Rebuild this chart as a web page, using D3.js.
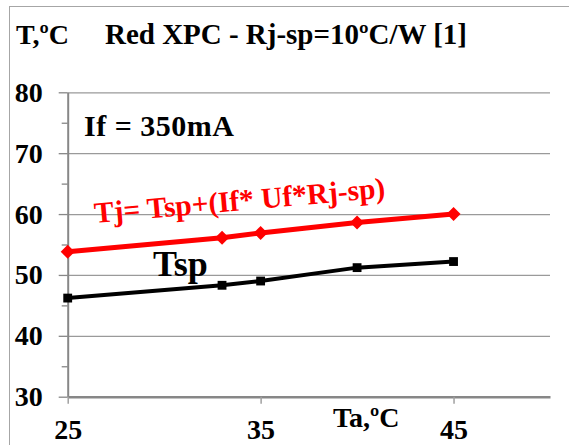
<!DOCTYPE html>
<html>
<head>
<meta charset="utf-8">
<script src="https://cdn.jsdelivr.net/npm/d3@7"></script>
</head>
<body style="margin:0">
<div id="chart"></div>
<script>
// ambient temperature (x) and the two temperature series
const ta = [25, 33, 35, 40, 45]
const tsp = [46.2, 48.3, 49.0, 51.2, 52.2]
const tj = [53.8, 56.1, 56.9, 58.6, 60.0]
const yTicks = [30, 40, 50, 60, 70, 80]
const yMinor = [35, 45, 55, 65, 75]
const xTicks = [25, 35, 45]

const width = 569
const height = 445
const axisColor = "#878787"

const svg = d3.select('#chart').append("svg")
  .attr("width", width)
  .attr("height", height)

// outer chart frame (only top and left edges are visible)
svg.append("rect")
  .attr("x", 9.5).attr("y", 6.5)
  .attr("width", 600).attr("height", 500)
  .attr("fill", "#fff")
  .attr("stroke", "#a6a6a6")

const x = d3.scaleLinear().domain([25, 50]).range([67.7, 550])
const y = d3.scaleLinear().domain([30, 80]).range([396.7, 92.3])

// horizontal gridlines
svg.append("g")
  .attr("transform", "translate(67.7,0)")
  .call(d3.axisLeft(y).tickValues(yTicks.slice(1)).tickSize(-(550 - 67.7)).tickFormat(""))
  .call(g => g.select(".domain").remove())
  .call(g => g.selectAll("line").attr("stroke", "#9a9a9a").attr("stroke-width", 1.3))

// minor y ticks
svg.append("g")
  .attr("transform", "translate(67.7,0)")
  .call(d3.axisLeft(y).tickValues(yMinor).tickSize(6).tickFormat(""))
  .call(g => g.select(".domain").remove())
  .call(g => g.selectAll("line").attr("stroke", axisColor).attr("stroke-width", 1.3))

// y axis
svg.append("g")
  .attr("transform", "translate(67.7,0)")
  .call(d3.axisLeft(y).tickValues(yTicks).tickSize(9).tickPadding(16).tickSizeOuter(0))
  .call(g => g.select(".domain").attr("stroke", axisColor).attr("stroke-width", 2))
  .call(g => g.selectAll("line").attr("stroke", axisColor).attr("stroke-width", 1.3))

// x axis
svg.append("g")
  .attr("transform", "translate(0,396.7)")
  .call(d3.axisBottom(x).tickValues(xTicks).tickSize(7).tickPadding(15.4).tickSizeOuter(0))
  .call(g => g.select(".domain").attr("stroke", axisColor).attr("stroke-width", 2.5))
  .call(g => g.selectAll("line").attr("stroke", "#a0a0a0").attr("stroke-width", 1.5))

svg.selectAll(".tick text")
  .attr("font-size", 28)
  .attr("font-weight", "bold")
  .attr("fill", "#000")
  .style("font-family", "'Liberation Serif'")

const line = d3.line()
  .x(d => x(d[0]))
  .y(d => y(d[1]))

// Tj series (red, diamonds)
const tjData = ta.map((t, i) => [t, tj[i]])
svg.append("path")
  .datum(tjData)
  .attr("fill", "none")
  .attr("stroke", "#ff0000")
  .attr("stroke-width", 5)
  .attr("d", line)
svg.selectAll(".tj")
  .data(tjData)
  .join("path")
  .attr("class", "tj")
  .attr("transform", d => "translate(" + x(d[0]) + "," + y(d[1]) + ") rotate(45)")
  .attr("d", d3.symbol(d3.symbolSquare, 98))
  .attr("fill", "#ff0000")

// Tsp series (black, squares)
const tspData = ta.map((t, i) => [t, tsp[i]])
svg.append("path")
  .datum(tspData)
  .attr("fill", "none")
  .attr("stroke", "#000")
  .attr("stroke-width", 4)
  .attr("d", line)
svg.selectAll(".tsp")
  .data(tspData)
  .join("path")
  .attr("class", "tsp")
  .attr("transform", d => "translate(" + x(d[0]) + "," + y(d[1]) + ")")
  .attr("d", d3.symbol(d3.symbolSquare, 78))
  .attr("fill", "#000")

// texts
const labels = [
  {s: "T,ºC", x: 16, y: 44, size: 28},
  {s: "Red XPC - Rj-sp=10ºC/W [1]", x: 105, y: 44, size: 29, len: 362},
  {s: "If = 350mA", x: 84, y: 136, size: 30, len: 150},
  {s: "Tj= Tsp+(If* Uf*Rj-sp)", x: 95, y: 223, size: 29.5, fill: "#ff0000", rotate: -5, len: 292},
  {s: "Tsp", x: 153, y: 276, size: 36},
  {s: "Ta,ºC", x: 333, y: 427, size: 28}
]
svg.selectAll(".lbl").data(labels).join("text")
  .attr("class", "lbl")
  .attr("x", d => d.x).attr("y", d => d.y)
  .attr("font-size", d => d.size)
  .attr("font-weight", "bold")
  .attr("fill", d => d.fill || "#000")
  .attr("textLength", d => d.len || null)
  .attr("lengthAdjust", d => d.len ? "spacing" : null)
  .attr("transform", d => d.rotate ? "rotate(" + d.rotate + "," + d.x + "," + d.y + ")" : null)
  .style("font-family", "'Liberation Serif'")
  .text(d => d.s)
</script>
</body>
</html>
